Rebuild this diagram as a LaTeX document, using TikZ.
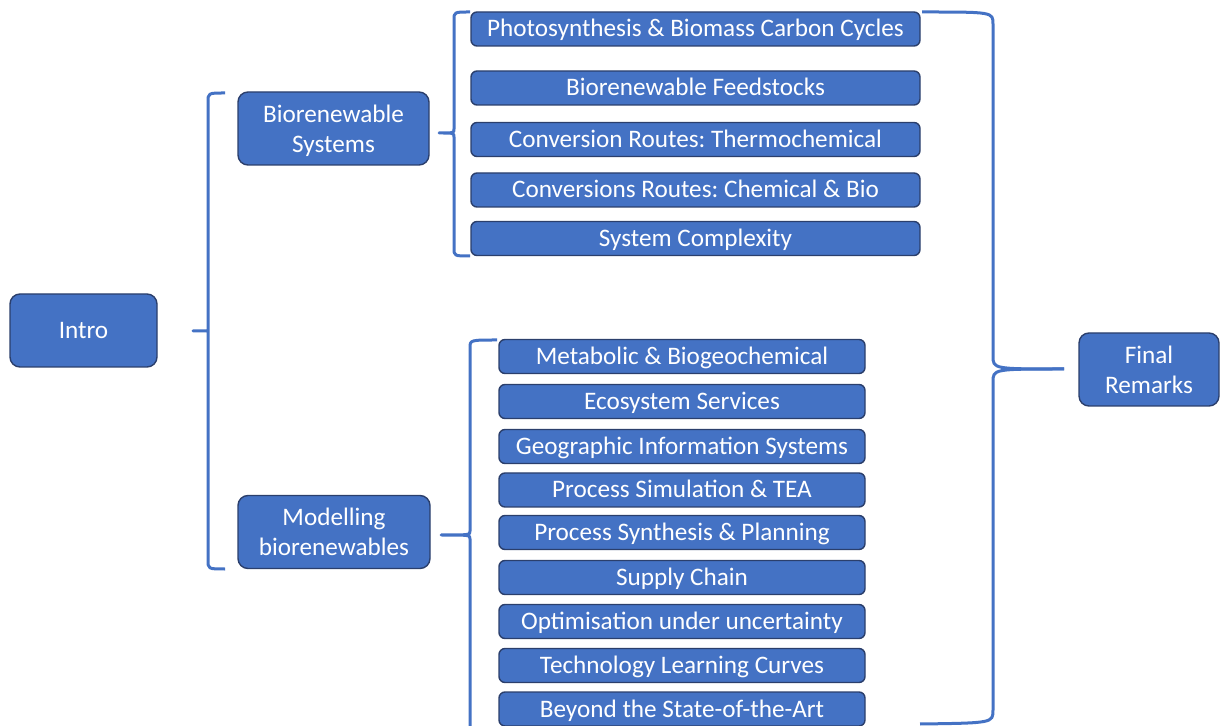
\documentclass[tikz,border=0pt]{standalone}
\usepackage{fontspec}
\setmainfont{Carlito}
\frenchspacing
\definecolor{boxblue}{HTML}{4472C4}
\definecolor{boxedge}{HTML}{2B3F6C}

\tikzset{
  topic/.style={draw=boxedge, fill=boxblue, text=white, line width=0.7pt,
    align=center, inner sep=0pt, text depth=0pt,
    font=\fontsize{12.6}{15}\selectfont},
  part/.style={topic, rounded corners=5pt, minimum height=36.5pt},
  chapter/.style={topic, rounded corners=3pt, minimum height=17pt,
    text height=8pt},
  upper/.style={chapter, minimum width=224.5pt},
  lower/.style={chapter, minimum width=183pt},
  brace/.style={draw=boxblue, line width=1.5pt, line join=round}
}

\begin{document}
\begin{tikzpicture}[x=0.5pt,y=-0.5pt]
  \useasboundingbox (0,0) rectangle (1220,726);

  % main parts
  \node[part, minimum width=73.5pt] (intro) at (83.5,330.5) {Intro};
  \node[part, minimum width=95.5pt] (bsys) at (333.5,128.5) {Biorenewable\\Systems};
  \node[part, minimum width=96pt]   (mbio) at (334,532) {Modelling\\biorenewables};
  \node[part, minimum width=70pt]   (final) at (1149,369.5) {Final\\Remarks};

  % biorenewable systems
  \node[upper] (photo) at (695.5,29)    {Photosynthesis \& Biomass Carbon Cycles};
  \node[upper] (feed)  at (695.5,88)    {Biorenewable Feedstocks};
  \node[upper] (thermo) at (695.5,139.5) {Conversion Routes: Thermochemical};
  \node[upper] (chem)  at (695.5,190)   {Conversions Routes: Chemical \& Bio};
  \node[upper] (cplx)  at (695.5,238.5) {System Complexity};

  % modelling
  \node[lower] (meta) at (682,356.5) {Metabolic \& Biogeochemical};
  \node[lower] (eco)  at (682,401.5) {Ecosystem Services};
  \node[lower] (gis)  at (682,446.5) {Geographic Information Systems};
  \node[lower] (sim)  at (682,490)   {Process Simulation \& TEA};
  \node[lower] (syn)  at (682,532.5) {Process Synthesis \& Planning};
  \node[lower] (sc)   at (682,577.5) {Supply Chain};
  \node[lower] (opt)  at (682,621.5) {Optimisation under uncertainty};
  \node[lower] (tlc)  at (682,665.5) {Technology Learning Curves};
  \node[lower] (soa)  at (682,709)   {Beyond the State-of-the-Art};

  % brace tips
  \coordinate (introtip) at (193,331);
  \coordinate (bsystip) at (439,133);
  \coordinate (mbiotip) at (441,535);
  \coordinate (finaltip) at (1064,369);

  \draw[brace] (225,93) .. controls (208,93) .. (208,102) -- (208,331)
    -- (introtip) -- (208,331)
    -- (208,560) .. controls (208,569) .. (225,569);
  \draw[brace] (470,12) .. controls (454,12) .. (454,20) -- (454,129)
    .. controls (454,133) .. (bsystip) .. controls (454,133) .. (454,137)
    -- (454,248) .. controls (454,256) .. (470,256);
  \draw[brace] (497,340) .. controls (470,340) .. (470,348) -- (470,531)
    .. controls (470,535) .. (mbiotip) .. controls (470,535) .. (470,539)
    -- (470,726);
  \draw[brace] (922,12) .. controls (993,12) .. (993,24) -- (993,356)
    .. controls (993,369) .. (finaltip);
  \draw[brace] (finaltip) .. controls (993,369) .. (993,382) -- (993,710)
    .. controls (993,723) .. (920,724);
\end{tikzpicture}
\end{document}
